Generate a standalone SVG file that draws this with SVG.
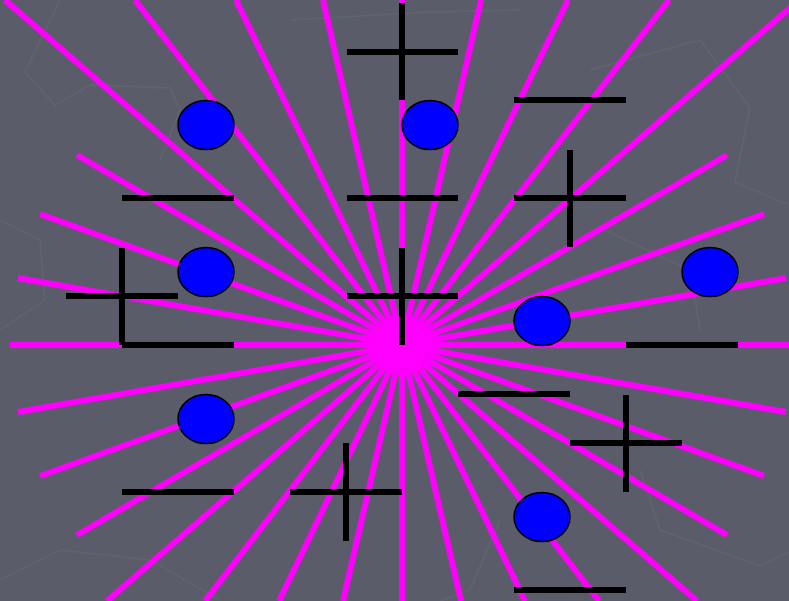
<svg xmlns="http://www.w3.org/2000/svg" width="789" height="601" viewBox="0 0 789 601">
<style>
.bg{fill:#5a5c69}
.tex{fill:none;stroke:#60626e;stroke-width:2}
.ray{stroke:#ff00ff;stroke-width:6;stroke-linecap:butt}
.bar{stroke:#000;stroke-width:6}
.dot{fill:#0000ff;stroke:#000;stroke-width:1.5}
</style>
<rect class="bg" x="0" y="0" width="789" height="601"/>
<g id="texture">
<polyline class="tex" points="60,0 25,72 55,105 90,85 170,88 180,110 160,160"/>
<polyline class="tex" points="290,20 430,12 520,10"/>
<polyline class="tex" points="590,70 700,40 750,108 735,182 789,205"/>
<polyline class="tex" points="600,228 690,270 700,330"/>
<polyline class="tex" points="640,470 660,530 760,566 789,552"/>
<polyline class="tex" points="0,580 60,550 150,560 220,600"/>
<polyline class="tex" points="0,220 40,240 45,300 0,330"/>
<polyline class="tex" points="500,520 470,590 440,601"/>
</g>
<g id="rays">
<line class="ray" x1="402" y1="345" x2="5" y2="0"/>
<line class="ray" x1="402" y1="345" x2="135" y2="0"/>
<line class="ray" x1="402" y1="345" x2="236" y2="0"/>
<line class="ray" x1="402" y1="345" x2="323" y2="0"/>
<line class="ray" x1="402" y1="345" x2="402" y2="0"/>
<line class="ray" x1="402" y1="345" x2="481" y2="0"/>
<line class="ray" x1="402" y1="345" x2="568" y2="0"/>
<line class="ray" x1="402" y1="345" x2="669" y2="0"/>
<line class="ray" x1="402" y1="345" x2="799" y2="0"/>
<line class="ray" x1="402" y1="345" x2="77" y2="155"/>
<line class="ray" x1="402" y1="345" x2="40" y2="214"/>
<line class="ray" x1="402" y1="345" x2="18" y2="278"/>
<line class="ray" x1="402" y1="345" x2="10" y2="345"/>
<line class="ray" x1="402" y1="345" x2="18" y2="412"/>
<line class="ray" x1="402" y1="345" x2="40" y2="476"/>
<line class="ray" x1="402" y1="345" x2="77" y2="535"/>
<line class="ray" x1="402" y1="345" x2="727" y2="155"/>
<line class="ray" x1="402" y1="345" x2="764" y2="214"/>
<line class="ray" x1="402" y1="345" x2="786" y2="278"/>
<line class="ray" x1="402" y1="345" x2="794" y2="345"/>
<line class="ray" x1="402" y1="345" x2="786" y2="412"/>
<line class="ray" x1="402" y1="345" x2="764" y2="476"/>
<line class="ray" x1="402" y1="345" x2="727" y2="535"/>
<line class="ray" x1="402" y1="345" x2="107" y2="601"/>
<line class="ray" x1="402" y1="345" x2="205" y2="601"/>
<line class="ray" x1="402" y1="345" x2="279" y2="601"/>
<line class="ray" x1="402" y1="345" x2="343" y2="601"/>
<line class="ray" x1="402" y1="345" x2="402" y2="601"/>
<line class="ray" x1="402" y1="345" x2="461" y2="601"/>
<line class="ray" x1="402" y1="345" x2="525" y2="601"/>
<line class="ray" x1="402" y1="345" x2="599" y2="601"/>
<line class="ray" x1="402" y1="345" x2="697" y2="601"/>
<circle cx="402" cy="345" r="30" fill="#ff00ff"/>
</g>
<g id="bars">
<line class="bar" x1="347" y1="52" x2="458" y2="52"/>
<line class="bar" x1="402" y1="3" x2="402" y2="100"/>
<line class="bar" x1="514" y1="100" x2="626" y2="100"/>
<line class="bar" x1="122" y1="198" x2="234" y2="198"/>
<line class="bar" x1="347" y1="198" x2="458" y2="198"/>
<line class="bar" x1="514" y1="198" x2="626" y2="198"/>
<line class="bar" x1="570" y1="150" x2="570" y2="247"/>
<line class="bar" x1="66" y1="296" x2="178" y2="296"/>
<line class="bar" x1="122" y1="248" x2="122" y2="345"/>
<line class="bar" x1="347" y1="296" x2="458" y2="296"/>
<line class="bar" x1="402" y1="248" x2="402" y2="345"/>
<line class="bar" x1="122" y1="345" x2="234" y2="345"/>
<line class="bar" x1="626" y1="345" x2="738" y2="345"/>
<line class="bar" x1="458" y1="394" x2="570" y2="394"/>
<line class="bar" x1="570" y1="443" x2="682" y2="443"/>
<line class="bar" x1="626" y1="395" x2="626" y2="492"/>
<line class="bar" x1="122" y1="492" x2="234" y2="492"/>
<line class="bar" x1="290" y1="492" x2="402" y2="492"/>
<line class="bar" x1="346" y1="443" x2="346" y2="541"/>
<line class="bar" x1="514" y1="590" x2="626" y2="590"/>
</g>
<g id="dots">
<ellipse class="dot" cx="206" cy="125" rx="28" ry="24.5"/>
<ellipse class="dot" cx="430" cy="125" rx="28" ry="24.5"/>
<ellipse class="dot" cx="206" cy="272" rx="28" ry="24.5"/>
<ellipse class="dot" cx="710" cy="272" rx="28" ry="24.5"/>
<ellipse class="dot" cx="542" cy="321" rx="28" ry="24.5"/>
<ellipse class="dot" cx="206" cy="419" rx="28" ry="24.5"/>
<ellipse class="dot" cx="542" cy="517" rx="28" ry="24.5"/>
</g>
</svg>
